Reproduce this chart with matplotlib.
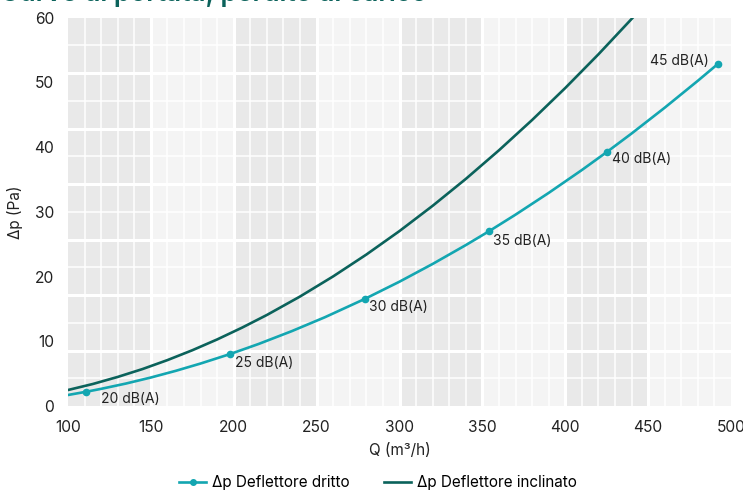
import matplotlib
matplotlib.use("Agg")
import matplotlib.pyplot as plt
from matplotlib.lines import Line2D

plt.rcParams['font.family'] = ['Inter', 'DejaVu Sans']

# ---- data ----
q_dritto = [100, 111, 120, 135, 150, 165, 180, 198, 215, 235, 255, 279, 300, 320, 340, 354,
            370, 390, 410, 425, 440, 460, 480, 492]
dp_dritto = [1.70, 2.20, 2.65, 3.47, 4.40, 5.43, 6.56, 8.04, 9.58, 11.56, 13.71, 16.53, 19.20,
             21.94, 24.85, 26.99, 29.55, 32.91, 36.44, 39.21, 42.08, 46.07, 50.23, 52.81]

q_marks = [111, 198, 279, 354, 425, 492]
dp_marks = [2.20, 8.04, 16.53, 26.99, 39.21, 52.81]
mark_labels = ["20 dB(A)", "25 dB(A)", "30 dB(A)", "35 dB(A)", "40 dB(A)", "45 dB(A)"]

q_inclinato = [100, 115, 130, 145, 160, 175, 190, 205, 220, 240, 260, 280, 300, 320, 340,
               360, 380, 400, 420, 440, 450]
dp_inclinato = [2.47, 3.40, 4.49, 5.71, 7.09, 8.61, 10.28, 12.10, 14.06, 16.91, 20.02, 23.39,
                27.02, 30.92, 35.07, 39.49, 44.17, 49.11, 54.31, 59.77, 62.6]

x_ticks = [100, 150, 200, 250, 300, 350, 400, 450, 500]
y_ticks = [0, 10, 20, 30, 40, 50, 60]

title = "Curve di portata, perdite di carico"
xlabel = "Q (m³/h)"
ylabel = "Δp (Pa)"
legend_labels = ["Δp Deflettore dritto", "Δp Deflettore inclinato"]

c_dritto = "#13a6b1"
c_incl = "#0b625b"
c_text = "#222222"

fig = plt.figure(figsize=(7.43, 4.91), dpi=100)
ax = fig.add_axes([68/743, 1-406/491, (731-68)/743, (406-17.5)/491])

# background bands
xmin, xmax, ymin, ymax = 100, 500, 0, 60
for i, x0 in enumerate(range(100, 500, 50)):
    ax.axvspan(x0, x0+50, color="#e9e9e9" if i % 2 == 0 else "#f4f4f4", lw=0, zorder=0)
# decorative grid
for xv in range(110, 500, 10):
    thick = (xv % 50 == 0)
    ax.axvline(xv, color="white", lw=2.2 if thick else 1.1, zorder=1)
for k in range(1, 14):
    yv = 60 - 60*k/14
    ax.axhline(yv, color="white", lw=2.2 if k % 2 == 0 else 1.1, zorder=1)

# curves
ax.plot(q_dritto, dp_dritto, color=c_dritto, lw=1.9, zorder=3, solid_joinstyle='round')
ax.plot(q_marks, dp_marks, 'o', color=c_dritto, ms=4.5, zorder=4)
l2, = ax.plot(q_inclinato, dp_inclinato, color=c_incl, lw=1.9, zorder=3, solid_joinstyle='round')

offsets = [(10.8, -5.0), (3.6, -6.5), (2.9, -5.8), (2.9, -7.2), (3.6, -5.0), (-6.5, 2.2)]
for q, d, lab, off in zip(q_marks, dp_marks, mark_labels, offsets):
    ax.annotate(lab, (q, d), xytext=off, textcoords='offset points',
                ha='right' if off[0] < 0 else 'left', va='center',
                fontsize=10, color=c_text, zorder=5)

ax.set_xlim(xmin, xmax)
ax.set_ylim(ymin, ymax)
ax.set_xticks(x_ticks)
ax.set_yticks(y_ticks)
ax.tick_params(length=0, labelsize=11.2, colors=c_text, pad=10)
for s in ax.spines.values():
    s.set_visible(False)
ax.set_xlabel(xlabel, fontsize=11, color=c_text, labelpad=6)
ax.set_ylabel(ylabel, fontsize=11, color=c_text, labelpad=8)

h1 = Line2D([0, 0.5, 1], [0, 0, 0], color=c_dritto, lw=1.9, marker='o', ms=4, markevery=[1])
fig.legend([h1, l2], legend_labels, loc='center', bbox_to_anchor=(378/743, 1-483/491), ncol=2,
           frameon=False, fontsize=11, handlelength=1.8, columnspacing=2.2, handletextpad=0.4)

fig.text(0.0, 1-1.3/491, title, fontsize=19, fontweight='semibold', color=c_incl,
         ha='left', va='baseline')

fig.savefig("out.png", dpi=100)
